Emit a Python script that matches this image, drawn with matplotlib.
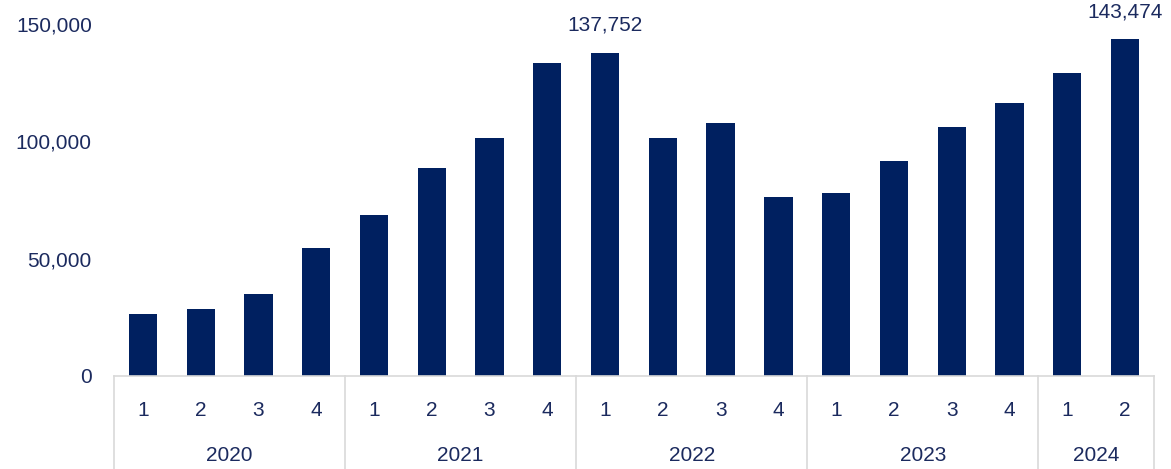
import matplotlib
matplotlib.use('Agg')
import matplotlib.pyplot as plt
import matplotlib.transforms as mtransforms
import numpy as np

years = ['2020', '2021', '2022', '2023', '2024']
quarters = ['1', '2', '3', '4', '1', '2', '3', '4', '1', '2', '3', '4',
            '1', '2', '3', '4', '1', '2']
values = [26500, 28600, 35000, 54700, 68400, 88500, 101300, 133300,
          137752, 101300, 107700, 76100, 77800, 91500, 106000, 116200,
          129000, 143474]
quarters_per_year = [4, 4, 4, 4, 2]
labelled = [8, 17]

bar_color = '#002060'
text_color = '#1b2a5e'
line_color = '#d9d9d9'

plt.rcParams['font.family'] = ['Liberation Sans', 'DejaVu Sans']
plt.rcParams['font.size'] = 15

fig = plt.figure(figsize=(11.71, 4.69), dpi=100)
ax = fig.add_axes([0.0974, 0.1983, 0.888, 0.7505])

x = np.arange(len(values))
ax.bar(x, values, width=0.49, color=bar_color)
ax.set_xlim(-0.5, len(values) - 0.5)
ax.set_ylim(0, 150000)

ax.set_yticks([0, 50000, 100000, 150000])
ax.set_yticklabels(['{:,}'.format(v) for v in [0, 50000, 100000, 150000]])
ax.set_xticks(x)
ax.set_xticklabels(quarters)
ax.tick_params(axis='both', length=0, colors=text_color)
ax.tick_params(axis='y', pad=16)
ax.tick_params(axis='x', pad=18)

for s in ['top', 'right', 'left']:
    ax.spines[s].set_visible(False)
ax.spines['bottom'].set_color(line_color)
ax.spines['bottom'].set_linewidth(1.2)

for i in labelled:
    ax.annotate('{:,}'.format(values[i]), (x[i], values[i]),
                xytext=(0, 13), textcoords='offset points',
                ha='center', va='bottom', color=text_color,
                annotation_clip=False)

trans = mtransforms.blended_transform_factory(ax.transData, ax.transAxes)
start = 0
bounds = [-0.5]
for yr, n in zip(years, quarters_per_year):
    centre = start + (n - 1) / 2
    ax.text(centre, -0.225, yr, transform=trans, ha='center', va='center',
            color=text_color)
    start += n
    bounds.append(start - 0.5)

for b in bounds:
    ax.plot([b, b], [0, -0.27], transform=trans, color=line_color,
            linewidth=1.2, clip_on=False)

fig.savefig('out.png', dpi=100)
